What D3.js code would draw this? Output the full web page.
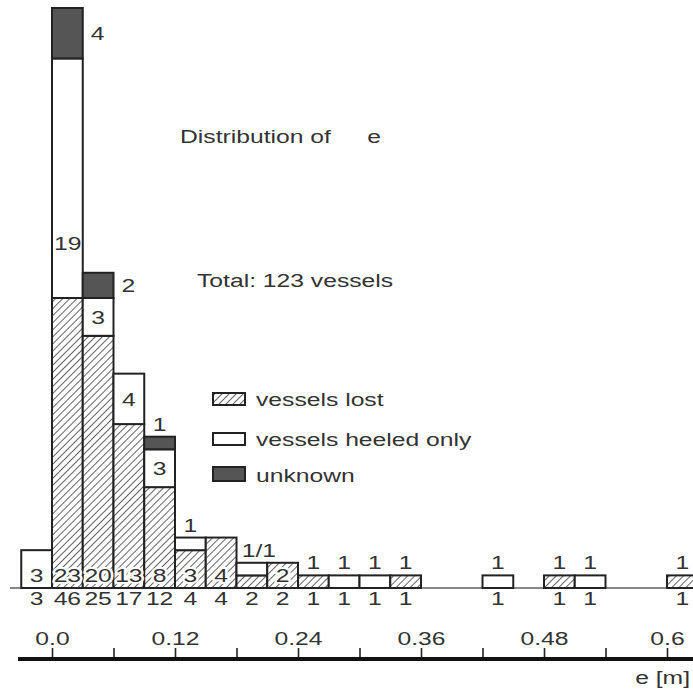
<!DOCTYPE html>
<html><head><meta charset="utf-8">
<script src="https://cdn.jsdelivr.net/npm/d3@7"></script>
<style>
html,body{margin:0;padding:0;background:#fff;}
svg{display:block;}
text{font-family:"Liberation Sans",Arial,sans-serif;fill:#333;}
</style></head>
<body>
<svg id="c" width="693" height="689"></svg>
<script>
// ---- data ----
const binStart = [-0.03,0.00,0.03,0.06,0.09,0.12,0.15,0.18,0.21,0.24,0.27,0.30,0.33,0.42,0.48,0.51,0.60];
const lost     = [0,23,20,13,8,3,4,1,2,1,0,0,1,0,1,0,1];
const heeled   = [3,19,3,4,3,1,0,1,0,0,1,1,0,1,0,1,0];
const unknown  = [0,4,2,0,1,0,0,0,0,0,0,0,0,0,0,0,0];
const binWidth = 0.03;
const bottomLabels = ["3","23","20","13","8","3","4","","2","","","","","","","",""];
const heeledLabels = ["","19","3","4","3","","","","","","","","","","","",""];
const sideLabels   = ["","4","2","","","","","","","","","","","","","",""];
const topLabels    = ["","","","","1","1","","1/1","","1","1","1","1","1","1","1","1"];
const tickValues = [0,0.06,0.12,0.18,0.24,0.30,0.36,0.42,0.48,0.54,0.60];
const tickLabels = {"0":"0.0","0.12":"0.12","0.24":"0.24","0.36":"0.36","0.48":"0.48","0.6":"0.6"};
const legendItems = ["vessels lost","vessels heeled only","unknown"];
const title = "Distribution of";
const totalText = "Total: 123 vessels";
const axisTitle = "e [m]";

const svg = d3.select("#c");
const FS = 19, SX = 1.3;

const defs = svg.append("defs");
const pat = defs.append("pattern").attr("id","hatch").attr("patternUnits","userSpaceOnUse")
  .attr("width",5).attr("height",5).attr("patternTransform","rotate(45)");
pat.append("rect").attr("width",5).attr("height",5).attr("fill","#fff");
pat.append("line").attr("x1",0).attr("y1",0).attr("x2",0).attr("y2",5).attr("stroke","#222").attr("stroke-width",1.4);

const x = d3.scaleLinear().domain([0,0.6]).range([52,667]);
const y = d3.scaleLinear().domain([0,46]).range([588,8]);

function txt(px,py,s,anchor,opts={}){
  const g = svg.append("g").attr("transform",`translate(${px},${py})`);
  const t = g.append("text").attr("transform",`scale(${SX},1)`).attr("text-anchor",anchor||"start")
    .attr("font-size",opts.fs||FS).style("white-space","pre").text(s);
  if(opts.halo){t.attr("stroke","#fff").attr("stroke-width",4).attr("paint-order","stroke").attr("stroke-linejoin","round");}
  return t;
}

// baseline
svg.append("line").attr("x1",10).attr("x2",693).attr("y1",y(0)).attr("y2",y(0)).attr("stroke","#888").attr("stroke-width",2);

const bins = binStart.map((s,i)=>({i,s,lost:lost[i],heeled:heeled[i],unknown:unknown[i]}));
const segs = [];
bins.forEach(b=>{
  let base=0;
  [["lost","url(#hatch)"],["heeled","#fff"],["unknown","#555"]].forEach(([k,f])=>{
    if(b[k]>0){segs.push({b,k,f,y0:base,y1:base+b[k]});}
    base+=b[k];
  });
});
svg.append("g").selectAll("rect").data(segs).join("rect")
  .attr("x",d=>x(d.b.s)).attr("width",d=>x(d.b.s+binWidth)-x(d.b.s))
  .attr("y",d=>y(d.y1)).attr("height",d=>y(d.y0)-y(d.y1))
  .attr("fill",d=>d.f).attr("stroke","#222").attr("stroke-width",2);

// labels
bins.forEach(b=>{
  const cx = x(b.s+binWidth/2);
  const tot = b.lost+b.heeled+b.unknown;
  if(bottomLabels[b.i]) txt(cx,582,bottomLabels[b.i],"middle",{halo:true});
  if(heeledLabels[b.i]){
    if(b.i===1) txt(x(b.s)+2,y(b.lost)-48,heeledLabels[b.i],"start");
    else txt(cx,(y(b.lost)+y(b.lost+b.heeled))/2+7,heeledLabels[b.i],"middle");
  }
  if(sideLabels[b.i]) txt(x(b.s+binWidth)+8,(y(b.lost+b.heeled)+y(tot))/2+7,sideLabels[b.i],"start");
  if(topLabels[b.i]) txt(cx+(b.i===7?7:0),y(tot)-6,topLabels[b.i],"middle");
  txt(cx,605,String(tot),"middle");
});

// title & total
const tt = txt(180,143,title,"start");
tt.append("tspan").attr("dx",28).text("e");
txt(197,287,totalText,"start");

// legend
const lg = [{f:"url(#hatch)",y:393,h:12},{f:"#fff",y:433,h:12},{f:"#555",y:467,h:14}];
legendItems.forEach((s,i)=>{
  svg.append("rect").attr("x",213).attr("y",lg[i].y).attr("width",32).attr("height",lg[i].h)
    .attr("fill",lg[i].f).attr("stroke","#222").attr("stroke-width",2);
  txt(256,lg[i].y+lg[i].h+1,s,"start");
});

// axis
const ax = svg.append("g").attr("transform","translate(0,659)")
  .call(d3.axisTop(x).tickValues(tickValues).tickSize(11).tickPadding(3)
    .tickFormat(d=>tickLabels[String(+d.toFixed(2))]||""));
ax.select(".domain").remove();
ax.selectAll(".tick line").attr("stroke","#222").attr("stroke-width",1.6);
ax.selectAll(".tick text").attr("font-size",FS).attr("font-family","Liberation Sans, Arial, sans-serif")
  .attr("fill","#333").attr("transform",`scale(${SX},1)`);
svg.append("line").attr("x1",18).attr("x2",693).attr("y1",659).attr("y2",659).attr("stroke","#111").attr("stroke-width",4);
txt(690,684,axisTitle,"end");
</script>
</body></html>
